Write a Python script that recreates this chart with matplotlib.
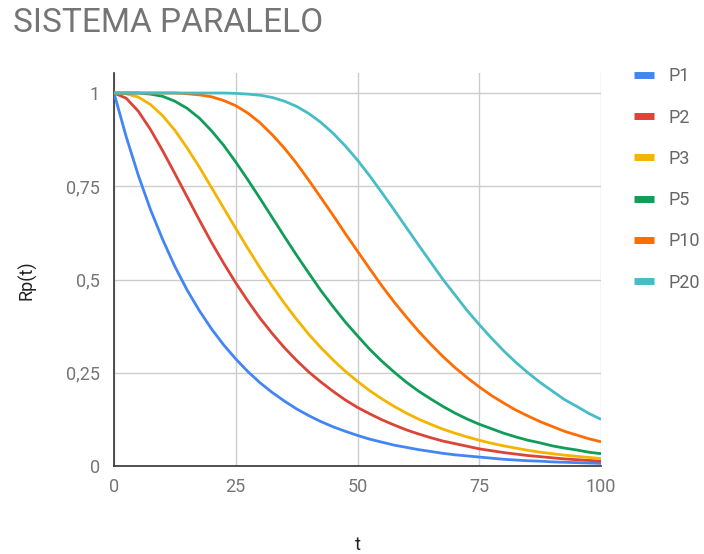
import matplotlib
matplotlib.use("Agg")
import matplotlib.pyplot as plt

plt.rcParams['font.family'] = ['Roboto', 'DejaVu Sans']

# Reliability of a parallel system Rp(t), sampled every 2.5 time units
t = [0, 2.5, 5, 7.5, 10, 12.5, 15, 17.5, 20, 22.5, 25, 27.5, 30, 32.5, 35, 37.5,
     40, 42.5, 45, 47.5, 50, 52.5, 55, 57.5, 60, 62.5, 65, 67.5, 70, 72.5, 75,
     77.5, 80, 82.5, 85, 87.5, 90, 92.5, 95, 97.5, 100]

p1 = [1.000, 0.883, 0.779, 0.687, 0.607, 0.535, 0.472, 0.417, 0.368, 0.325,
      0.287, 0.253, 0.223, 0.197, 0.174, 0.153, 0.135, 0.119, 0.105, 0.093,
      0.082, 0.072, 0.064, 0.056, 0.050, 0.044, 0.039, 0.034, 0.030, 0.027,
      0.024, 0.021, 0.018, 0.016, 0.014, 0.013, 0.011, 0.010, 0.009, 0.008, 0.007]
p2 = [1.000, 0.986, 0.951, 0.902, 0.845, 0.784, 0.722, 0.660, 0.600, 0.544,
      0.491, 0.442, 0.396, 0.355, 0.317, 0.283, 0.252, 0.225, 0.200, 0.177,
      0.157, 0.140, 0.124, 0.110, 0.097, 0.086, 0.076, 0.067, 0.060, 0.053,
      0.046, 0.041, 0.036, 0.032, 0.028, 0.025, 0.022, 0.019, 0.017, 0.015, 0.013]
p3 = [1.000, 0.998, 0.989, 0.969, 0.939, 0.900, 0.853, 0.802, 0.747, 0.692,
      0.637, 0.583, 0.531, 0.482, 0.436, 0.393, 0.353, 0.317, 0.284, 0.254,
      0.227, 0.202, 0.180, 0.160, 0.142, 0.126, 0.112, 0.099, 0.088, 0.078,
      0.069, 0.061, 0.054, 0.048, 0.042, 0.037, 0.033, 0.029, 0.026, 0.023, 0.020]
p5 = [1.000, 1.000, 1.000, 0.997, 0.991, 0.978, 0.959, 0.933, 0.899, 0.860,
      0.815, 0.767, 0.717, 0.666, 0.615, 0.565, 0.517, 0.470, 0.427, 0.386,
      0.349, 0.313, 0.281, 0.252, 0.225, 0.201, 0.180, 0.160, 0.142, 0.126,
      0.112, 0.100, 0.088, 0.078, 0.069, 0.062, 0.054, 0.048, 0.043, 0.037, 0.033]
p10 = [1.000, 1.000, 1.000, 1.000, 1.000, 1.000, 0.998, 0.995, 0.990, 0.980,
       0.966, 0.946, 0.920, 0.888, 0.852, 0.811, 0.766, 0.719, 0.672, 0.623,
       0.576, 0.529, 0.483, 0.440, 0.400, 0.362, 0.327, 0.294, 0.264, 0.237,
       0.212, 0.189, 0.169, 0.150, 0.134, 0.119, 0.106, 0.093, 0.083, 0.073, 0.065]
p20 = [1.000, 1.000, 1.000, 1.000, 1.000, 1.000, 1.000, 1.000, 1.000, 1.000,
       0.999, 0.997, 0.994, 0.988, 0.978, 0.964, 0.945, 0.921, 0.892, 0.858,
       0.820, 0.778, 0.733, 0.687, 0.640, 0.593, 0.547, 0.501, 0.459, 0.417,
       0.379, 0.343, 0.309, 0.278, 0.250, 0.224, 0.201, 0.178, 0.160, 0.141, 0.125]

series = [("P1", p1, "#4285F4"),
          ("P2", p2, "#DB4437"),
          ("P3", p3, "#F4B400"),
          ("P5", p5, "#0F9D58"),
          ("P10", p10, "#FF6D01"),
          ("P20", p20, "#46BDC6")]

x_ticks = [0, 25, 50, 75, 100]
y_ticks = [0, 0.25, 0.5, 0.75, 1]
y_labels = ["0", "0,25", "0,5", "0,75", "1"]

fig = plt.figure(figsize=(7.04, 5.54), dpi=100)
ax = fig.add_axes([114 / 704, 1 - 466 / 554, 487 / 704, 393 / 554])

for name, vals, color in series:
    ax.plot(t, vals, color=color, linewidth=2.0, label=name,
            solid_capstyle='butt', solid_joinstyle='round', zorder=3)

ax.set_xlim(0, 100)
ax.set_ylim(0, 393 / 373)

ax.set_xticks(x_ticks)
ax.set_xticklabels([str(v) for v in x_ticks])
ax.set_yticks(y_ticks)
ax.set_yticklabels(y_labels)
ax.tick_params(length=0, labelsize=13, labelcolor="#757575")
ax.tick_params(axis='x', pad=9)
ax.tick_params(axis='y', pad=10)

# grid: vertical lines run the full height, horizontal ones at the ticks
ax.grid(True, color="#cccccc", linewidth=1.0, zorder=0)

for side in ["top", "right"]:
    ax.spines[side].set_visible(False)
ax.spines["left"].set_color("#333333")
ax.spines["bottom"].set_color("#333333")
ax.spines["left"].set_linewidth(1.2)
ax.spines["bottom"].set_linewidth(1.2)

fig.text(358 / 704, 1 - 545 / 554, "t", fontsize=13, color="#222222",
         ha="center", va="center")
fig.text(27 / 704, 1 - 280 / 554, "Rp(t)", fontsize=13, color="#222222",
         ha="center", va="center", rotation=90)

fig.text(13 / 704, 1 - 23 / 554, "SISTEMA PARALELO", fontsize=24,
         color="#757575", ha="left", va="center")

# legend on the right
leg = fig.legend(loc="upper left", bbox_to_anchor=(627 / 704, 1 - 60 / 554),
                 frameon=False, fontsize=13, handlelength=1.1,
                 handletextpad=0.78, labelspacing=1.29, borderaxespad=0)
for h in leg.get_lines():
    h.set_linewidth(5)
for txt in leg.get_texts():
    txt.set_color("#666666")

fig.savefig("out.png", dpi=100)
